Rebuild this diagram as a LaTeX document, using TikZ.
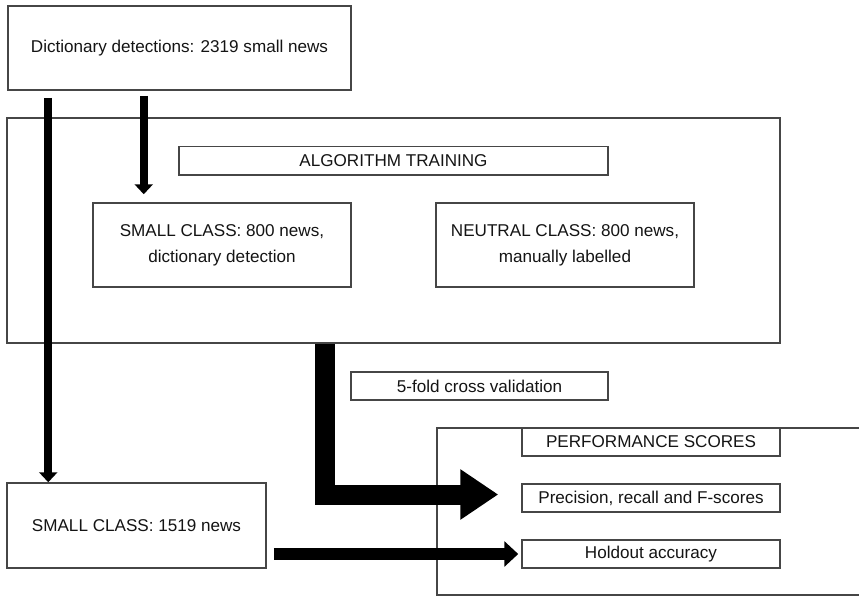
\documentclass[tikz,border=0pt]{standalone}
\usepackage{fontspec}
\setmainfont{Liberation Sans}
\usepackage{xcolor}
\usepackage{tikz}
\usetikzlibrary{arrows.meta, positioning}
\definecolor{framegray}{RGB}{70,70,70}
\definecolor{inkblack}{RGB}{20,20,20}

\begin{document}
\begin{tikzpicture}[x=0.5pt, y=-0.5pt,
  box/.style={rectangle, draw=framegray, line width=0.75pt, fill=white,
              align=center, inner sep=0pt, text=inkblack,
              font=\fontsize{8.55}{13}\selectfont},
  bar/.style={box, minimum width=129pt, minimum height=14pt},
  arr/.style={-{Triangle[width=9pt, length=5pt]}, line width=4pt},
  midarr/.style={-{Triangle[width=12.5pt, length=7pt]}, line width=6pt},
  bigarr/.style={-{Triangle[width=24pt, length=19pt]}, line width=10pt,
                 line join=miter}
]
\useasboundingbox (0,0) rectangle (859,596);
\clip (0,0) rectangle (859,596);
% boxes
\node[box, minimum width=171.5pt, minimum height=42pt] (dict) at (179.5,48)
  {Dictionary detections: 2319 small news};
\node[box, minimum width=386.5pt, minimum height=112.5pt] (train) at (393.5,230.5) {};
\node[box, minimum width=214.5pt, minimum height=14.25pt] (algo) at (393.5,160.75)
  {ALGORITHM TRAINING};
\node[box, minimum width=129pt, minimum height=42pt] (smallc) at (222,245)
  {SMALL CLASS: 800 news,\\dictionary detection};
\node[box, minimum width=129pt, minimum height=42pt] (neutral) at (565,245)
  {NEUTRAL CLASS: 800 news,\\manually labelled};
\node[bar, minimum width=128.5pt] (cv) at (479.5,386) {5-fold cross validation};
\node[box, minimum width=240pt, minimum height=83.5pt] (perf) at (677,511.5) {};
\node[bar] (perfs) at (651,442) {PERFORMANCE SCORES};
\node[bar] (prec)  at (651,498) {Precision, recall and F-scores};
\node[bar] (hold)  at (651,554) {Holdout accuracy};
\node[box, minimum width=129.5pt, minimum height=42.5pt] (rest) at (136.5,525.5)
  {SMALL CLASS: 1519 news};
% arrows
\draw[arr] ([xshift=20.5pt, yshift=-3.5pt]dict.south west) coordinate (d1)
  -- (d1 |- rest.north);
\draw[arr] ([xshift=68.25pt, yshift=-2.5pt]dict.south west)
  -- ([xshift=25.75pt, yshift=4pt]smallc.north west);
\draw[bigarr] ([xshift=159.5pt]train.south west) |- ([yshift=1.75pt]prec.west)
  [shorten >=11.5pt];
\draw[midarr, shorten >=1.5pt] ([xshift=3.5pt]rest.east |- hold.west) -- (hold.west);
\end{tikzpicture}
\end{document}
